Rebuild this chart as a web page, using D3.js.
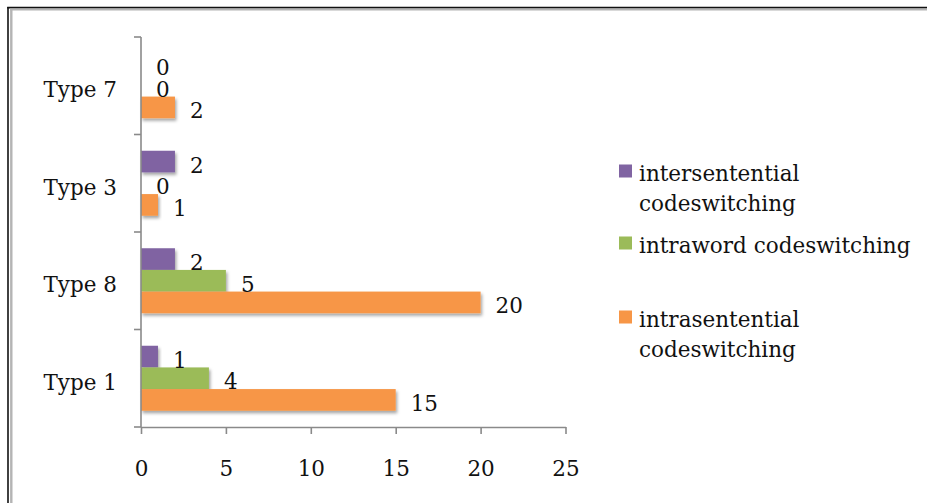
<!DOCTYPE html>
<html>
<head>
<meta charset="utf-8">
<script src="https://cdn.jsdelivr.net/npm/d3@7"></script>
<style>
  html, body { margin: 0; padding: 0; background: #fff; }
  svg { display: block; }
  text { font-family: "DejaVu Serif", serif; fill: #111; }
</style>
</head>
<body>
<script>
// Categories listed bottom to top as they appear on the vertical axis
const categories = ["Type 1", "Type 8", "Type 3", "Type 7"];

// Counts per codeswitching type
const intrasentential = [15, 20, 1, 2];
const intraword = [4, 5, 0, 0];
const intersentential = [1, 2, 2, 0];

const seriesNames = ["intersentential codeswitching", "intraword codeswitching", "intrasentential codeswitching"];
const seriesValues = [intersentential, intraword, intrasentential];
const seriesColors = ["#8064A2", "#9BBB59", "#F79646"];
const legendLines = [["intersentential", "codeswitching"], ["intraword codeswitching"], ["intrasentential", "codeswitching"]];

const xTicks = [0, 5, 10, 15, 20, 25];

const W = 927, H = 503;
const plot = { left: 141, right: 565.5, top: 37, bottom: 427 };
const fontSize = 21.5;

const svg = d3.select("body").append("svg").attr("width", W).attr("height", H);

const defs = svg.append("defs");
const shadow = defs.append("filter").attr("id", "barShadow")
  .attr("x", "-10%").attr("y", "-30%").attr("width", "130%").attr("height", "180%");
shadow.append("feDropShadow").attr("dx", 1.5).attr("dy", 2.5)
  .attr("stdDeviation", 1.6).attr("flood-color", "#000").attr("flood-opacity", 0.35);

// Frame: dark outer rule and lighter inner rule along the top and left
svg.append("line").attr("x1", 8).attr("x2", 8).attr("y1", 7).attr("y2", H)
  .attr("stroke", "#111").attr("stroke-width", 1.6);
svg.append("line").attr("x1", 7.2).attr("x2", W).attr("y1", 7.6).attr("y2", 7.6)
  .attr("stroke", "#111").attr("stroke-width", 1.6);
svg.append("line").attr("x1", 11.3).attr("x2", 11.3).attr("y1", 9).attr("y2", H)
  .attr("stroke", "#b4b4b4").attr("stroke-width", 2.4);
svg.append("line").attr("x1", 10).attr("x2", W).attr("y1", 9.6).attr("y2", 9.6)
  .attr("stroke", "#b4b4b4").attr("stroke-width", 2);

const x = d3.scaleLinear().domain([0, 25]).range([plot.left, plot.right]);
const y = d3.scaleBand().domain(categories.slice().reverse()).range([plot.top, plot.bottom]).padding(0);
const ySub = d3.scaleBand().domain(d3.range(seriesNames.length)).range([0, y.bandwidth()])
  .paddingInner(0).paddingOuter(0.75);

// Bars
const groups = svg.append("g").selectAll("g").data(categories).join("g")
  .attr("transform", d => `translate(0,${y(d)})`);

seriesValues.forEach((vals, si) => {
  groups.append("rect")
    .attr("x", x(0))
    .attr("y", ySub(si))
    .attr("width", (d, i) => x(vals[i]) - x(0))
    .attr("height", ySub.bandwidth())
    .attr("fill", seriesColors[si])
    .attr("filter", (d, i) => vals[i] > 0 ? "url(#barShadow)" : null);
});

// Value labels
seriesValues.forEach((vals, si) => {
  groups.append("text")
    .attr("x", (d, i) => x(vals[i]) + 15)
    .attr("y", ySub(si) + ySub.bandwidth() / 2 + 11)
    .attr("font-size", fontSize)
    .text((d, i) => vals[i]);
});

// X axis
const xAxis = svg.append("g").attr("transform", `translate(0,${plot.bottom})`)
  .call(d3.axisBottom(x).tickValues(xTicks).tickSize(7).tickSizeOuter(0).tickPadding(0).tickFormat(d3.format("d")));
xAxis.select(".domain").attr("stroke", "#8a8a8a").attr("stroke-width", 1.6);
xAxis.selectAll(".tick line").attr("stroke", "#8a8a8a").attr("stroke-width", 1.6);
xAxis.selectAll(".tick text").attr("font-size", fontSize).attr("font-family", "DejaVu Serif")
  .attr("fill", "#111").attr("dy", null).attr("y", 49);

// Y axis: ticks sit at the category boundaries
const yAxis = svg.append("g").attr("transform", `translate(${plot.left},0)`);
yAxis.append("line").attr("x1", 0).attr("x2", 0).attr("y1", plot.top).attr("y2", plot.bottom)
  .attr("stroke", "#8a8a8a").attr("stroke-width", 1.6);
const boundaries = categories.map(c => y(c)).concat([plot.bottom]);
yAxis.selectAll("line.tick").data(boundaries).join("line").attr("class", "tick")
  .attr("x1", -7).attr("x2", 0).attr("y1", d => d).attr("y2", d => d)
  .attr("stroke", "#8a8a8a").attr("stroke-width", 1.6);
yAxis.selectAll("text").data(categories).join("text")
  .attr("x", -24)
  .attr("y", d => y(d) + y.bandwidth() / 2 + 11.5)
  .attr("text-anchor", "end")
  .attr("font-size", fontSize)
  .text(d => d);

// Legend
const legendTop = [171, 243, 317];
const legend = svg.append("g");
seriesNames.forEach((name, si) => {
  const g = legend.append("g");
  g.append("rect").attr("x", 619).attr("y", legendTop[si] - 6.5).attr("width", 13).attr("height", 13)
    .attr("fill", seriesColors[si]);
  const t = g.append("text").attr("x", 639).attr("y", legendTop[si] + 10).attr("font-size", fontSize);
  legendLines[si].forEach((line, li) => {
    t.append("tspan").attr("x", 639).attr("dy", li === 0 ? 0 : 29.5).text(line);
  });
});
</script>
</body>
</html>
